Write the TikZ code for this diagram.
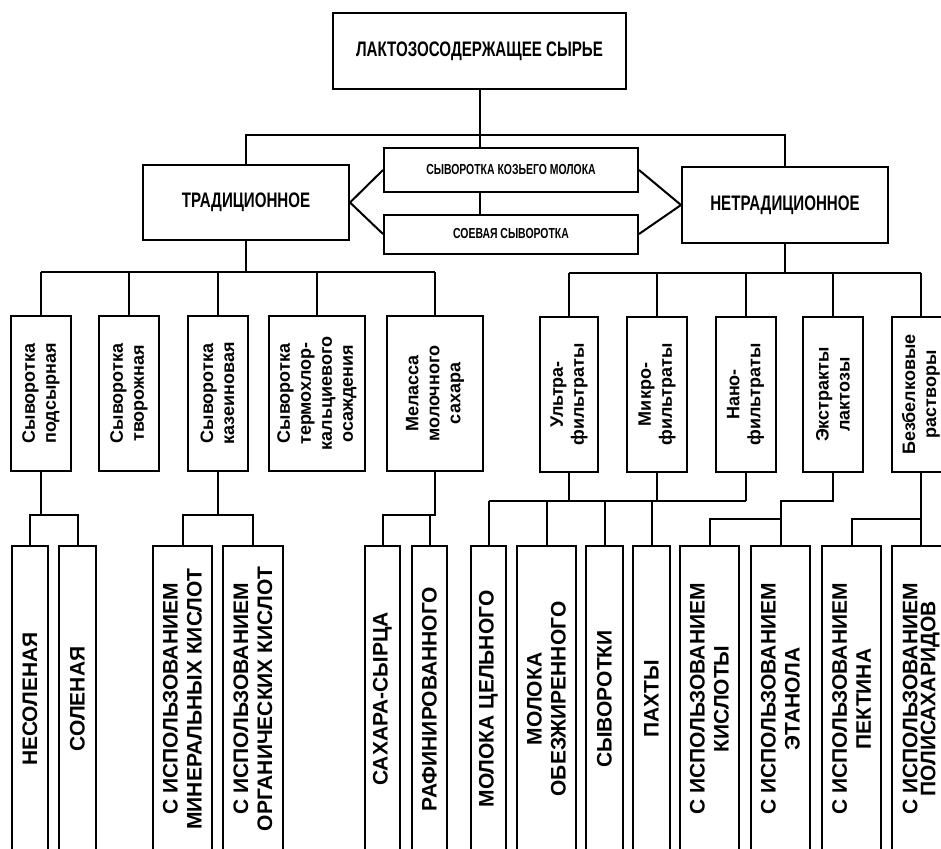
\documentclass[tikz,border=0pt]{standalone}
\usepackage{fontspec}
\setmainfont{Liberation Sans}
\newfontfamily\narrowfont[FakeStretch=0.72]{Liberation Sans}

\tikzset{
  line/.style={line width=2pt},
  box/.style={draw, line, inner sep=0pt, align=center},
  headbox/.style={box, font={\fontsize{21}{24}\narrowfont\bfseries}},
  midbox/.style={box, minimum width=254pt, font={\fontsize{14.5}{18}\narrowfont\bfseries}},
  lvlbox/.style={box, rotate=90, minimum width=155pt, minimum height=60pt,
    font={\fontsize{18}{21}\selectfont\bfseries}},
  leafbox/.style={box, rotate=90, minimum width=306pt, minimum height=59pt,
    font={\fontsize{21}{24}\selectfont\bfseries}},
}

\begin{document}
\begin{tikzpicture}[x=1pt, y=-1pt]
  \useasboundingbox (0,0) rectangle (941,848);
  \clip (0,0) rectangle (941,848);

  % top levels
  \node[headbox, minimum width=293pt, minimum height=76pt] (top) at (479.5,51) {ЛАКТОЗОСОДЕРЖАЩЕЕ СЫРЬЕ};
  \node[headbox, minimum width=206pt, minimum height=75pt] (trad) at (246,202.5) {ТРАДИЦИОННОЕ};
  \node[headbox, minimum width=206pt, minimum height=76pt] (netrad) at (785,205) {НЕТРАДИЦИОННОЕ};
  \node[midbox, minimum height=44pt] (goat) at (511,170) {СЫВОРОТКА КОЗЬЕГО МОЛОКА};
  \node[midbox, minimum height=39pt] (soy) at (511,234) {СОЕВАЯ СЫВОРОТКА};

  % traditional raw material
  \node[lvlbox] (podsyr) at (41,393.5) {Сыворотка\\подсырная};
  \node[lvlbox] (tvorog) at (129,393.5) {Сыворотка\\творожная};
  \node[lvlbox] (kazein) at (217.5,393.5) {Сыворотка\\казеиновая};
  \node[lvlbox, minimum height=96pt] (termo) at (317,393.5) {Сыворотка\\термохлор-\\кальциевого\\осаждения};
  \node[lvlbox, minimum height=96pt] (melassa) at (435,393.5) {Меласса\\молочного\\сахара};

  % non-traditional raw material
  \node[lvlbox, minimum height=58pt] (ultra) at (569,394.5) {Ультра-\\фильтраты};
  \node[lvlbox] (micro) at (657,394.5) {Микро-\\фильтраты};
  \node[lvlbox] (nano) at (745.5,394.5) {Нано-\\фильтраты};
  \node[lvlbox] (extr) at (833,394.5) {Экстракты\\лактозы};
  \node[lvlbox, minimum height=58pt] (bezb) at (921,394.5) {Безбелковые\\растворы};

  % leaves
  \node[leafbox, minimum height=36pt] (nesol) at (30,699) {НЕСОЛЕНАЯ};
  \node[leafbox, minimum height=37pt] (sol) at (77.5,699) {СОЛЕНАЯ};
  \node[leafbox] (miner) at (182.5,699) {С ИСПОЛЬЗОВАНИЕМ\\МИНЕРАЛЬНЫХ КИСЛОТ};
  \node[leafbox, minimum height=60pt] (organ) at (253,699) {С ИСПОЛЬЗОВАНИЕМ\\ОРГАНИЧЕСКИХ КИСЛОТ};
  \node[leafbox, minimum height=35pt] (syrec) at (382.5,699) {САХАРА-СЫРЦА};
  \node[leafbox, minimum height=35pt] (rafin) at (429.5,699) {РАФИНИРОВАННОГО};
  \node[leafbox, minimum height=35pt] (whole) at (488.5,699) {МОЛОКА ЦЕЛЬНОГО};
  \node[leafbox] (skim) at (546.5,699) {МОЛОКА\\ОБЕЗЖИРЕННОГО};
  \node[leafbox, minimum height=37pt] (whey) at (604.5,699) {СЫВОРОТКИ};
  \node[leafbox, minimum height=37pt] (butter) at (651.5,699) {ПАХТЫ};
  \node[leafbox] (acid) at (709.5,699) {С ИСПОЛЬЗОВАНИЕМ\\КИСЛОТЫ};
  \node[leafbox] (ethanol) at (780.5,699) {С ИСПОЛЬЗОВАНИЕМ\\ЭТАНОЛА};
  \node[leafbox] (pectin) at (851.5,699) {С ИСПОЛЬЗОВАНИЕМ\\ПЕКТИНА};
  \node[leafbox, minimum height=58pt, font={\fontsize{21}{18}\selectfont\bfseries}] (polysac) at (921,699) {С ИСПОЛЬЗОВАНИЕМ\\ПОЛИСАХАРИДОВ};

  % bus lines
  \coordinate (busA) at (0,135);
  \coordinate (busB) at (0,272);
  \coordinate (busC) at (0,273);
  \coordinate (busD) at (0,515);
  \coordinate (busF) at (0,501);
  \coordinate (busH) at (0,518.5);

  % connectors
  \draw[line] (top.south) -- (goat.north -| top.south);
  \draw[line] (goat.south -| top.south) -- (soy.north -| top.south);
  \draw[line] (trad.north) -- (trad.north |- busA) -- (netrad.north |- busA) -- (netrad.north);
  \draw[line] (goat.west) -- (trad.east) -- (soy.west);
  \draw[line] (goat.east) -- (netrad.west) -- (soy.east);

  \draw[line] (trad.south) -- (trad.south |- busB);
  \draw[line] (podsyr.east |- busB) -- (melassa.east |- busB);
  \foreach \n in {podsyr,tvorog,kazein,termo,melassa}
    \draw[line] (\n.east) -- (\n.east |- busB);

  \draw[line] (netrad.south) -- (netrad.south |- busC);
  \draw[line] (ultra.east |- busC) -- (bezb.east |- busC);
  \foreach \n in {ultra,micro,nano,extr,bezb}
    \draw[line] (\n.east) -- (\n.east |- busC);

  \draw[line] (podsyr.west) -- (podsyr.west |- busD);
  \draw[line] (nesol.east) |- (sol.east |- busD) -- (sol.east);
  \draw[line] (kazein.west) -- (kazein.west |- busD);
  \draw[line] (miner.east) |- (organ.east |- busD) -- (organ.east);
  \draw[line] (syrec.east) |- (melassa.west |- busD) -- (melassa.west);
  \draw[line] (rafin.east) -- (rafin.east |- busD);

  \foreach \n in {ultra,micro,nano}
    \draw[line] (\n.west) -- (\n.west |- busF);
  \draw[line] (whole.east |- busF) -- (nano.west |- busF);
  \foreach \n in {whole,skim,whey,butter}
    \draw[line] (\n.east) -- (\n.east |- busF);

  \draw[line] (extr.west) |- (ethanol.east |- busF) -- (ethanol.east);
  \draw[line] (acid.east) |- (ethanol.east |- busH);
  \draw[line] (bezb.west) -- (polysac.east);
  \draw[line] (pectin.east) |- (polysac.east |- busH);
\end{tikzpicture}
\end{document}
